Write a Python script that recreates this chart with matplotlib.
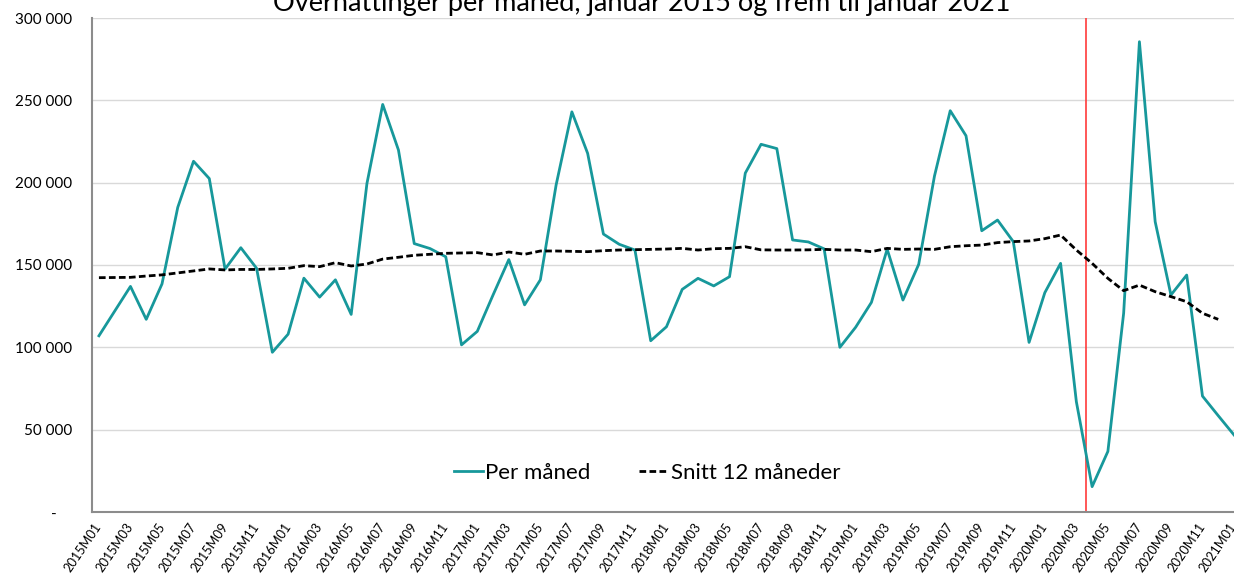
import matplotlib
matplotlib.use("Agg")
import matplotlib.pyplot as plt
from matplotlib.ticker import FuncFormatter

plt.rcParams['font.family'] = ['Lato', 'DejaVu Sans']

# 2015M01 .. 2021M01
months = ["%dM%02d" % (y, m) for y in range(2015, 2022) for m in range(1, 13)][:73]

per_month = [
    107000, 122000, 137000, 117000, 138500, 185000, 213000, 202500, 147500, 160500,
    148000, 97000, 108000, 142000, 130500, 141000, 120000, 199500, 247500, 219800,
    163000, 160000, 155000, 101500, 109700, 131800, 153300, 125800, 141000, 198600,
    243000, 217800, 168800, 162600, 159100, 104000, 112500, 135200, 141900, 137300,
    142900, 205800, 223300, 220700, 165200, 164000, 159800, 100000, 112200, 127300,
    159600, 128700, 150400, 204000, 243700, 228500, 170800, 177300, 164200, 103000,
    133200, 151000, 67000, 15400, 36800, 120700, 285600, 176300, 131800, 143900,
    70400, 58500, 46800,
]

avg_12 = [
    142300, 142400, 142500, 143300, 144000, 145200, 146400, 147600, 147000, 147300,
    147300, 147600, 148000, 149600, 149000, 151400, 149400, 150600, 153600, 154700,
    155900, 156500, 157100, 157300, 157500, 156100, 157900, 156500, 158500, 158500,
    158300, 158100, 158700, 159100, 159300, 159500, 159700, 160100, 159100, 159900,
    160100, 161100, 159200, 159100, 159100, 159200, 159500, 159100, 159100, 158100,
    160100, 159500, 159700, 159500, 161100, 161700, 162100, 163600, 164200, 164600,
    166000, 168200, 159100, 151000, 141900, 134400, 137800, 133800, 130800, 127700,
    120700, 117000,
]

lockdown_x = 62.6

TITLE = "Overnattinger per måned, januar 2015 og frem til januar 2021"


def main():
    fig = plt.figure(figsize=(12.34, 5.78), dpi=100)
    ax = fig.add_axes([92 / 1234, 66 / 578, 1142 / 1234, 494 / 578])

    ax.plot(range(len(per_month)), per_month, color="#17989b", lw=2.0,
            label="Per måned", zorder=3)
    ax.plot(range(len(avg_12)), avg_12, color="black", lw=2.0,
            ls=(0, (2.4, 1.2)), label="Snitt 12 måneder", zorder=4)
    ax.axvline(lockdown_x, color="#ff3b3b", lw=1.2, zorder=2)

    ax.set_xlim(-0.44, 72.0)
    ax.set_ylim(0, 300000)
    ax.set_yticks(range(0, 300001, 50000))
    ax.yaxis.set_major_formatter(FuncFormatter(
        lambda v, p: "-    " if v == 0 else "{:,}".format(int(v)).replace(",", " ")))
    ax.grid(axis="y", color="#d9d9d9", lw=1.0)
    ax.set_axisbelow(True)

    ax.set_xticks(range(0, 73, 2))
    ax.set_xticklabels(months[::2], rotation=56, ha="right",
                       rotation_mode="anchor", va="center")

    ax.tick_params(axis="y", length=0, pad=14, labelsize=11, labelcolor="black")
    ax.tick_params(axis="x", length=0, pad=9, labelsize=9.2, labelcolor="black")

    for s in ("top", "right"):
        ax.spines[s].set_visible(False)
    for s in ("left", "bottom"):
        ax.spines[s].set_color("#8c8c8c")
        ax.spines[s].set_linewidth(1.5)

    ax.legend(loc="center", bbox_to_anchor=(0.486, 0.079), ncol=2,
              frameon=False, fontsize=16, handlelength=1.3,
              handletextpad=0.1, columnspacing=2.2)

    # title is clipped at the top edge, as in the original
    fig.text(0.52, 0.981, TITLE, ha="center", va="baseline", fontsize=19.5)

    fig.savefig("out.png", dpi=100)


if __name__ == "__main__":
    main()
